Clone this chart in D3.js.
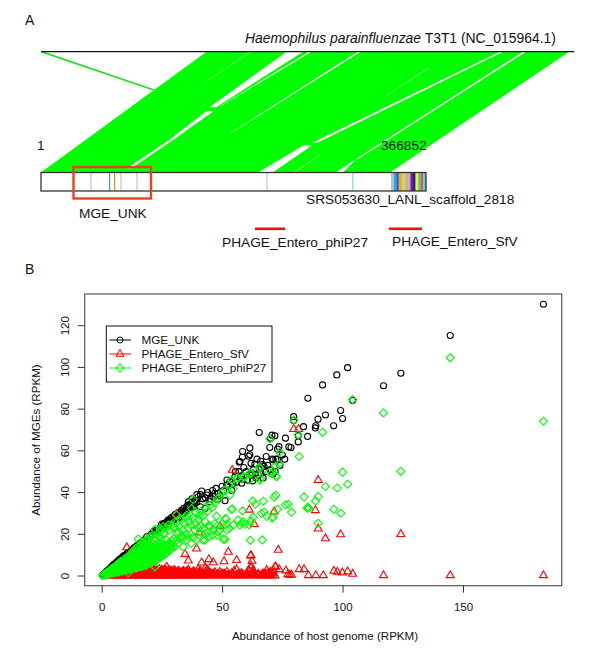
<!DOCTYPE html>
<html><head><meta charset="utf-8">
<style>html,body{margin:0;padding:0;background:#fff}svg{display:block}text{font-family:"Liberation Sans",Arial,sans-serif;fill:#111}</style>
<script src="https://cdn.jsdelivr.net/npm/d3@7"></script></head><body><div id="c"></div>
<script>
// --- Panel A: alignment gaps, in ribbon reading units [rowA,startA,endA,rowB,startB,endB]
const ribbonOutline=[[155,537],[155,1480],[517,1015],[517,107]];
const strayHit=[[155,107],[270,400]];
const alignGaps=[
[155,745,788,322,545,562],[333,537,556,420,440,450],[420,440,450,505,330,342],
[155,803,810,320,570,572],[155,930,938,400,598,600],[155,650,652,250,530,531],
[205,1112,1114,290,1000,1001],[155,1300,1308,428,812,825],[436,790,812,517,672,710],
[155,1360,1368,478,925,930],[482,918,922,517,875,892],[340,1112,1113,455,955,958],[465,830,832,517,765,767]];
const scaffoldLength=366852;
const scaffoldGenes=[47640,65360,70130,76230,91470,215340,297000];
const scaffoldGeneColors=["#c4c4c4","#3c96e6","#f08c14","#c4c4c4","#c4c4c4","#c4c4c4","#6fe8d8"];
const clusterStarts=[333500,336000,338500,341000,344000,347000,350000,352000,354500,357000,359500,362000,364500];
const clusterColors=["#c0c0c0","#20a8f0","#2060e0","#f8a820","#b8e070","#d0b080","#d89898","#7010d0","#302060","#f0f040","#50d050","#e84890","#40e0c0"];
// --- Panel B data (RPKM)
const mgeUnk=[[183.4,130.3],[144.7,115.3],[124.2,97.2],[117,91.2],[102.1,99.9],[97.6,96.4],[91.7,91.6],[85.6,85.2],[104.2,84.1],[99.2,79.3],[100,75.5],[96.3,72],[92.9,77.2],[89.8,75.2],[88.9,72],[88.7,71],[85.5,66.9],[83.8,71.6],[81.6,64.3],[81.6,67.3],[79.7,76.4],[79.7,74.5],[76.3,66.1],[78.6,61.6],[77.7,61.9],[73.6,62],[73,60.8],[69.8,61.6],[71.9,67.2],[70.7,67.5],[70.1,66],[65.4,68.8],[61.5,61.4],[58.5,59.7],[61.5,58.1],[61,57.4],[68.3,57.3],[70.8,56.1],[71.2,55.7],[72.3,56],[63.6,53.7],[66.8,53.4],[67.4,52.5],[66.2,51.7],[66.1,49.3],[62.2,49.6],[61.5,48.5],[62.7,45.6],[58.5,46.4],[58.1,44.5],[71,48.8],[57.4,54.9],[57.1,54.6],[58.4,56.9],[41.5,40.7],[43.6,38.8],[47,39.6],[48.4,39.6],[51.2,36.1],[48.1,36.7],[44.9,35.6],[40.1,38],[42.9,32.4],[40.8,33.2],[35.7,34],[35.3,33.2],[24.9,24.9],[21.4,21.2],[18.7,18.8],[19.4,17.2],[16.6,15.6],[51.9,43.6],[53.2,45.2],[55.3,47.6],[62.2,48.4],
[.5,.5],[1,1],[1.5,1.5],[2,2.2],[2.5,2.6],[3,3.2],[3.5,3.6],[4,4.4],[4.5,4.8],[5,5.6],[5.5,5.8],[6,6.4],[6.5,6.9],[7,7.4],[7.5,8.1],[8,8.4],[8.5,8.8],[9,9.5],[9.5,9.9],[10,10.2],[10.5,10.8],[11,11.2],[12,11.8],[12.5,12.6],[13,12.7],[13.5,13.6],[14,13.2],[14.5,14.3],[15,14.8],[15.5,14.6],[16,15.8],[17,15.8],[17.5,17.1],[18,16.6],[20,18.9],[20.5,20],[22,20.6],[22.5,21.9],[23,21.4],[24,23],[25,23.6],[25.5,24.6],[26,25.2],[26.5,24.4],[27,25.8],[27.5,26.8],[28,26.4],[28.5,27.4],[29,28],[29.5,27],[30,28.6],[30.5,29.5],[31,28],[31.5,30],[32,29.2],[32.5,30.6],[33,31.4],[33.5,30],[34,32.4],[34.5,31.4],[36,32.6],[36.5,33.6],[37,34.4],[37.5,33.4],[38,35.4],[38.5,34.6],[39,36.2],[39.5,35.4],
[36,35.5],[37.5,37],[38.5,36],[39.5,39],[41,39],[42,37],[43,37.5],[44,40],[45,37],[46,41],[46.5,38],[47.5,42],[49,38.5],[50,43],[50.5,41],[52,46],[52.5,43],[54,41],[54.5,44],[55.5,50],[56,45],[57,50],[58,48],[59,52],[60,50],[60.5,46],[62,54],[63,51],[64,47],[64.5,56],[65,48.5],[66,55],[67,47],[68,50],[69,53],[70,51],[72,50],[73,56],[74,53],[75,58],[76,56],[21,19.5],[23.5,22],[26,23.5],[28,25],[30,27],[32,28],[34,30],[35,31],[36,34],[38,33]];
const sfvOutliers=[[183.4,.3],[144.7,.3],[117,.3],[124.2,20],[99.2,19.9],[92.9,18],[89.9,22.7],[89.9,45.9],[88.7,31.5],[73.3,12.5],[61.8,9.8],[62.4,7.2],[79.7,70.4],[81.7,70.4],[61.3,31.7],[71.6,30.9],[63.3,24.8],[104.2,1],[102.1,2.1],[99.9,1.6],[97.8,2],[96.4,2.4],[92,.3],[88.9,.3],[85.8,.3],[84,3.2],[82,3.2],[78.8,.5],[78.1,.5],[77.3,.8],[76.5,2.6],[73.7,3.2],[72.2,4.5],[71.2,2.9],[52.6,11.5],[62,9.9],[56,7.6],[50.8,7],[44.5,8],[46.3,6.5],[41.5,6.4],[49.1,23.9],[54.2,50.8],[68.5,2.8],[10.4,13.7],[31.1,29.7],[40.4,20.8],[39.4,13.1],[34.6,10.5],[36,7.3]];
const sfvDenseHost=[3,4,5,6,7,8,9,10,11,12,13,14,15,16,17,18,19,20,21,22,23,24,25,26,27,28,29,30,31,32,33,34,35,36,37,38,39,40,41,42,43,44,45,46,47,48,49,50,51,52,53,54,55,56,57,58,59,60,61,62,63,64,65,66,67,68,69,70,71,72];
const sfvDenseValues=[[.2,.4],[.2,.5],[.2,.6],[.2,.7],[.2,.6,.9],[.2,.7,1.1],[.3,.8,1.2],[.2,.8,1.4],[.2,.9,1.6],[.3,1,1.7],[.2,1.1,1.9],[.2,1,2.1],[.3,1.2,2.2],[.2,1.3,2.3],[.3,1.1,2.5],[.2,1.4,2.6],[.2,1.2,2.8],[.3,1.5,2.9,3.6],[.2,1.3,3,4.4],[.2,1.6,3],[.3,1.4,2.7],[.2,1.5,3.2],[.2,1.7,2.9],[.3,1.4,3],[.2,1.6,2.6,4.4],[.2,1.3,2.7],[.3,1.5,2.4],[.2,1.2,2.8],[.3,1.6],[.2,1.2,2.5],[.3,1.5],[.2,1,2.3],[.3,1.8],[.2,1.1,2.9],[.3,1.5],[.2,2.2],[.3,1.2],[.2,1.7,3.3],[.4,2.4],[.2,1.2],[.3,2.1,4],[.2,1.1,3],[.4,1.6],[.2,.9],[.3,1.7],[.2,.8],[.4,1.9],[.2,1.2],[.3,1],[.2,2],[.4],[.2,1.2],[.3,2.5],[.2,3.2],[.4,1],[.2,1.4],[.3],[.2,1.1],[.4,2.6],[.3,1.4,3.8,5],[.2,1.1,2.5],[.3],[.4,1],[.2],[.3,1.2],[.3,1.1],[.2,1.4],[.2,.9,2],[.4,1.3],[.2,4.4]];
const sfvFillHost=[5.5,6.5,7.5,8.5,9.5,10.5,11.5,12.5,13.5,14.5,15.5,16.5,17.5,18.5,19.5,20.5,21.5,22.5,23.5,24.5,25.5,26.5,27.5,28.5,29.5,30.5,31.5,32.5,33.5,34.5,35.5,36.5,37.5,38.5,39.5,40.5,42.5,44.5,46.5,48.5,50.5,52.5,54.5,56.5,58.5,60.5,63.5,66.5,69.5];
const sfvFillValues=[[.4],[.5],[.5,.8],[.6,1],[.5,1.2],[.7,1.4],[.6,1.3],[.8,1.5],[.6,1.7],[.9,1.8],[.7,2],[.8,1.9],[1,2.4],[.7,2.2],[.9,2.6],[1,2.5],[.8,2.7],[1.1,2.4],[.9,2.6],[1,2.1],[.7,2.4],[1.2,2.5],[.8,2],[1,2.2],[.7,1.9],[.9,2.3],[1.1,2],[.6,1.7],[.9,2.1],[.7,1.6],[1,2.4],[.6,1.8],[1.2],[.7,1.9],[.9],[.5,1.4],[.7],[.6,1.8],[1],[.5],[.8],[.6],[1.1],[.5],[.8],[.6],[.9],[.5],[.7]];
const phiOutliers=[[183.4,74.2],[144.7,104.6],[124.2,50.2],[117,78.2],[104.2,84.6],[100,49.8],[102.1,44],[97.8,42.2],[92.9,42.9],[91.7,68.9],[84,37.9],[89.9,38.1],[88.8,36],[96.4,32],[99.3,30.1],[89.9,25.3],[85.6,33],[85.9,32.5],[85.3,32.6],[78.8,30.6],[76.3,34.1],[77.5,34.4],[72.3,38.7],[71.6,37.8],[73,32],[67.1,35.8],[62.7,36],[63.8,34.4],[58.5,31.2],[66.3,30.1],[67.4,30.7],[68.5,28.6],[62.9,28.2],[62,26.4],[70.8,27.7],[71.2,28.3],[61.3,24.5],[58.1,25.3],[59.5,24.8],[61.7,17.1],[66.7,17.3],[82,57.3],[79.8,74.7],[81.6,67.7],[73.9,59.3],[69.8,65.7],[73.7,53.6],[72.2,52.6],[69.6,49.7],[72.3,48],[66,46.9],[65.3,52.1],[61.5,49.3],[59.1,47.3],[56.7,47],[61.3,46],[54.6,42],[53,43.6],[53.2,38.8],[54.2,32.1],[47.7,28.7],[51.6,27.3],[48,24.1],[51.9,22],[53,22.8],[56.7,26.8],[58.8,26],[57.4,24.4],[54.6,24.4],[45,23.9],[46.3,22],[42.9,17.2],[48,19.6],[50.5,17.6],[27,17.2],[28.3,12.4],[30.4,14],[31.8,15.6],[33.9,14],[35.3,17.2],[37.3,15.6],[39.4,17.2],[42.2,17.2],[44.3,18.8],[31.1,20.4],[33.9,22],[36,22.8],[32.5,18],[38.7,22],[41.5,20.4],[45,23.6],[48.4,21.2],[51.2,17.6],[29.7,23.3],[25.6,20.4],[24.2,18.8],[22.1,4.4],[11,1.6],[51.4,27.6],[53.9,32],[40.8,29.2],[44.3,24],[38,36.7],[53.9,46],[56,46.8],[58.8,47.6],[62.2,49.2],[65.7,46],[65.7,51.6],[70.5,49.2],[72.6,47.6],[37.3,32.4],[35.3,29.2],[32.5,27.6],[30.4,26],[27.7,24.4],[25.6,23.6],[24.2,22.8],[22.1,22.4],[15.2,17.7],[18.7,17.6],[20,18.8],[23.5,18.8],[31.1,29.2],
[16,14.8],[17,16.2],[18,15.5],[19,17.8],[21,19.5],[22,18],[23,20],[24,21],[25,22],[26,20.5],[27,23],[28,22],[29,24.5],[30,23.5],[31,25.5],[32,24],[33,27],[34,25.5],[35,28],[36,26],[37,29],[38,28],[39,30.5],[40,27],[41,31],[42,29],[43,33],[44,31],[45,34],[46,33],[47,35],[48,37],[49,38],[50,40],[51,41],
[28,15.5],[29,17],[30,18],[31,17],[32,21],[33,19],[34,18.5],[35,20],[36,19],[37,20],[37,24.5],[38,18.5],[39,25],[40,23],[41,24],[42,22.5],[43,20],[43,26],[44,21],[46,19.5],[47,25],[49,22],[50,25],[52,25]];
const phiDenseHost=[.3,1,2,3,4,5,6,7,8,9,10,11,12,13,14,15,16,17,18,19,20,21,22,23,24,25,26,27,28,29];
const phiDenseValues=[[.2],[.4,.8],[.7,1.3,1.8],[1,1.6,2.4],[1.3,2,2.8,3.5],[1.5,2.4,3.2,4.1],[1.8,2.7,3.7,4.8],[2,3.1,4.2,5.4,6.2],[2.3,3.5,4.8,6.1,7],[2.6,3.9,5.2,6.5,7.8],[2.9,4.3,5.8,7.1,8.6],[3.1,4.6,6.1,7.9,9.4],[3.4,5,6.6,8.3,10.2],[3.6,5.4,7.1,8.9,10.8,12],[3.9,5.7,7.6,9.5,11.3,13.1],[4.2,6.1,8,10.1,12,14],[4.4,6.4,8.6,10.6,12.7],[4.7,6.9,9,11.2,13.4,15.2],[5,7.3,9.5,11.8,14.1],[5.6,7.7,10,12.4,14.6,16.8],[6.2,8.2,10.5,12.8,15.2],[6.8,8.6,11,13.4,15.7],[7.2,9,11.4,13.8],[8,9.6,11.9,14.1],[8.8,10.2,12.3,14.5],[9.4,10.8,12.8,14.7],[10.3,12,13.6,15],[11,12.8,14.5],[12,13.6,15],[13.2,15]];
const phiFillHost=[4.5,6.5,8.5,10.5,12.5,14.5,16.5,18.5,20.5,22.5,24.5,26.5,28.5];
const phiFillValues=[[1.7,2.5,3.3],[2,3.2,4.3,5.4],[2.5,3.8,5.3,6.6],[3,5,6.4,7.9],[3.5,5.8,7.4,9.2,11],[4,6.6,8.5,10.4,12.4],[4.6,7.5,9.6,11.7,13.8],[5.3,8.4,10.7,13,15.4],[6.5,9.3,11.7,14,16.3],[7.6,10.2,12.6,14.9],[9,11.4,13.4,15.4],[10.7,13,14.8],[12.6,14.3]];
const xTicks=[0,50,100,150], yTicks=[0,20,40,60,80,100,120];
const seriesNames=["MGE_UNK","PHAGE_Entero_SfV","PHAGE_Entero_phiP27"];
const seriesColors=["#000000","#ff0000","#00ff00"];

const expand=(h,v)=>h.flatMap((x,i)=>v[i].map(y=>[x,y]));
const seriesData=[mgeUnk,
 sfvOutliers.concat(expand(sfvDenseHost,sfvDenseValues),expand(sfvFillHost,sfvFillValues)),
 phiOutliers.concat(expand(phiDenseHost,phiDenseValues),expand(phiFillHost,phiFillValues))];

const svg=d3.select("#c").append("svg").attr("width",600).attr("height",661);
// ---------- Panel A
const rx=d3.scaleLinear().domain([107,1493]).range([41.2,574.2]);
const ry=d3.scaleLinear().domain([155,517]).range([51.7,172.3]);
const sx=d3.scaleLinear().domain([1,scaffoldLength]).range([41,426]);
const pt=(r,p)=>[rx(p),ry(r)];
svg.append("path").attr("d",d3.line()(ribbonOutline.map(d=>pt(d[0],d[1])))+"Z").attr("fill","#00ff00");
svg.selectAll("path.gap").data(alignGaps).join("path").attr("class","gap").attr("fill","#fff")
 .attr("d",g=>d3.line()([pt(g[0],g[1]),pt(g[0],g[2]),pt(g[3],g[5]),pt(g[3],g[4])])+"Z");
svg.append("line").attr("x1",rx(strayHit[0][1])).attr("y1",ry(strayHit[0][0])).attr("x2",rx(strayHit[1][1])).attr("y2",ry(strayHit[1][0])).attr("stroke","#22e022").attr("stroke-width",1.8);
svg.append("line").attr("x1",rx(107)).attr("x2",rx(1493)).attr("y1",ry(155)).attr("y2",ry(155)).attr("stroke","#111").attr("stroke-width",1.2);
const bar={y:172.5,h:18.5};
svg.append("rect").attr("x",sx(1)).attr("y",bar.y).attr("width",sx(scaffoldLength)-sx(1)).attr("height",bar.h).attr("fill","#fff");
svg.selectAll("rect.gene").data(scaffoldGenes).join("rect").attr("class","gene").attr("x",d=>sx(d)-.6).attr("y",bar.y).attr("width",1.2).attr("height",bar.h).attr("fill",(d,i)=>scaffoldGeneColors[i]);
svg.selectAll("rect.cl").data(clusterStarts).join("rect").attr("class","cl").attr("x",d=>sx(d)).attr("y",bar.y).attr("width",(d,i)=>sx(clusterStarts[i+1]||scaffoldLength)-sx(d)).attr("height",bar.h).attr("fill",(d,i)=>clusterColors[i]);
svg.append("rect").attr("x",sx(1)).attr("y",bar.y).attr("width",sx(scaffoldLength)-sx(1)).attr("height",bar.h).attr("fill","none").attr("stroke","#333").attr("stroke-width",1.3);
svg.append("rect").attr("x",73.5).attr("y",167).attr("width",77.5).attr("height",31.5).attr("fill","none").attr("stroke","#e8401c").attr("stroke-width",2.4);
const lab=(t,x,y,s)=>svg.append("text").attr("x",x).attr("y",y).attr("font-size",s).text(t);
lab("A",25,25,14);
const title=lab("",245,43,13.9);
title.append("tspan").attr("font-style","italic").text("Haemophilus parainfluenzae");
title.append("tspan").text(" T3T1 (NC_015964.1)");
lab("1",37,150,13.7);
lab("366852",381,150,13.7);
lab("SRS053630_LANL_scaffold_2818",306,204,13.7);
lab("MGE_UNK",79,218,13.7);
lab("PHAGE_Entero_phiP27",222,247,13.7);
lab("PHAGE_Entero_SfV",392,246,13.7);
svg.selectAll("rect.mark").data([[255,285],[389,422]]).join("rect").attr("class","mark").attr("x",d=>d[0]).attr("width",d=>d[1]-d[0]).attr("y",227.5).attr("height",2.6).attr("fill","#f01010");
// ---------- Panel B
lab("B",25,274,14);
const x=d3.scaleLinear().domain([0,150]).range([101.7,463]);
const y=d3.scaleLinear().domain([0,120]).range([576,325.7]);
const sym=[d3.symbol().type(d3.symbolCircle).size(29)(),d3.symbol().type(d3.symbolTriangle).size(27)(),d3.symbol().type(d3.symbolSquare).size(33)()];
const rot=[0,0,45];
seriesData.forEach((arr,k)=>{
 svg.append("g").selectAll("path").data(arr).join("path").attr("d",sym[k]).attr("fill","none").attr("stroke",seriesColors[k]).attr("stroke-width",1.1)
  .attr("transform",d=>`translate(${x(d[0])},${y(d[1])}) rotate(${rot[k]})`);
});
svg.append("rect").attr("x",84.7).attr("y",294).attr("width",477).attr("height",291.7).attr("fill","none").attr("stroke","#555").attr("stroke-width",1.2);
const gx=svg.append("g").attr("transform","translate(0,585.7)").call(d3.axisBottom(x).tickValues(xTicks).tickSize(7).tickPadding(10));
const gy=svg.append("g").attr("transform","translate(84.7,0)").call(d3.axisLeft(y).tickValues(yTicks).tickSize(7).tickPadding(0));
[gx,gy].forEach(g=>{g.select(".domain").remove();g.selectAll("line").attr("stroke","#333");g.selectAll("text").attr("font-size",11.5);g.attr("font-family",null);});
gy.selectAll("text").attr("text-anchor","middle").attr("x",0).attr("dy",0).attr("transform",d=>`translate(-19.5,${y(d)}) rotate(-90) translate(0,4)`).attr("y",0);
gy.selectAll(".tick").attr("transform","translate(0,0)");
gy.selectAll(".tick line").attr("y1",d=>y(d)).attr("y2",d=>y(d));
lab("Abundance of host genome (RPKM)",325,640,11.6).attr("text-anchor","middle");
svg.append("text").attr("transform","translate(40,440) rotate(-90)").attr("text-anchor","middle").attr("font-size",11.6).text("Abundance of MGEs (RPKM)");
// legend
const lg=svg.append("g");
lg.append("rect").attr("x",106.3).attr("y",326).attr("width",165.7).attr("height",56).attr("fill","#fff").attr("stroke","#111").attr("stroke-width",1);
seriesNames.forEach((n,k)=>{const yy=340+14*k;
 lg.append("line").attr("x1",109.5).attr("x2",131).attr("y1",yy).attr("y2",yy).attr("stroke",seriesColors[k]);
 lg.append("path").attr("d",sym[k]).attr("fill","none").attr("stroke",seriesColors[k]).attr("transform",`translate(120,${yy}) rotate(${rot[k]})`);
 lg.append("text").attr("x",141.5).attr("y",yy+4).attr("font-size",11.7).text(n);
});
</script></body></html>
